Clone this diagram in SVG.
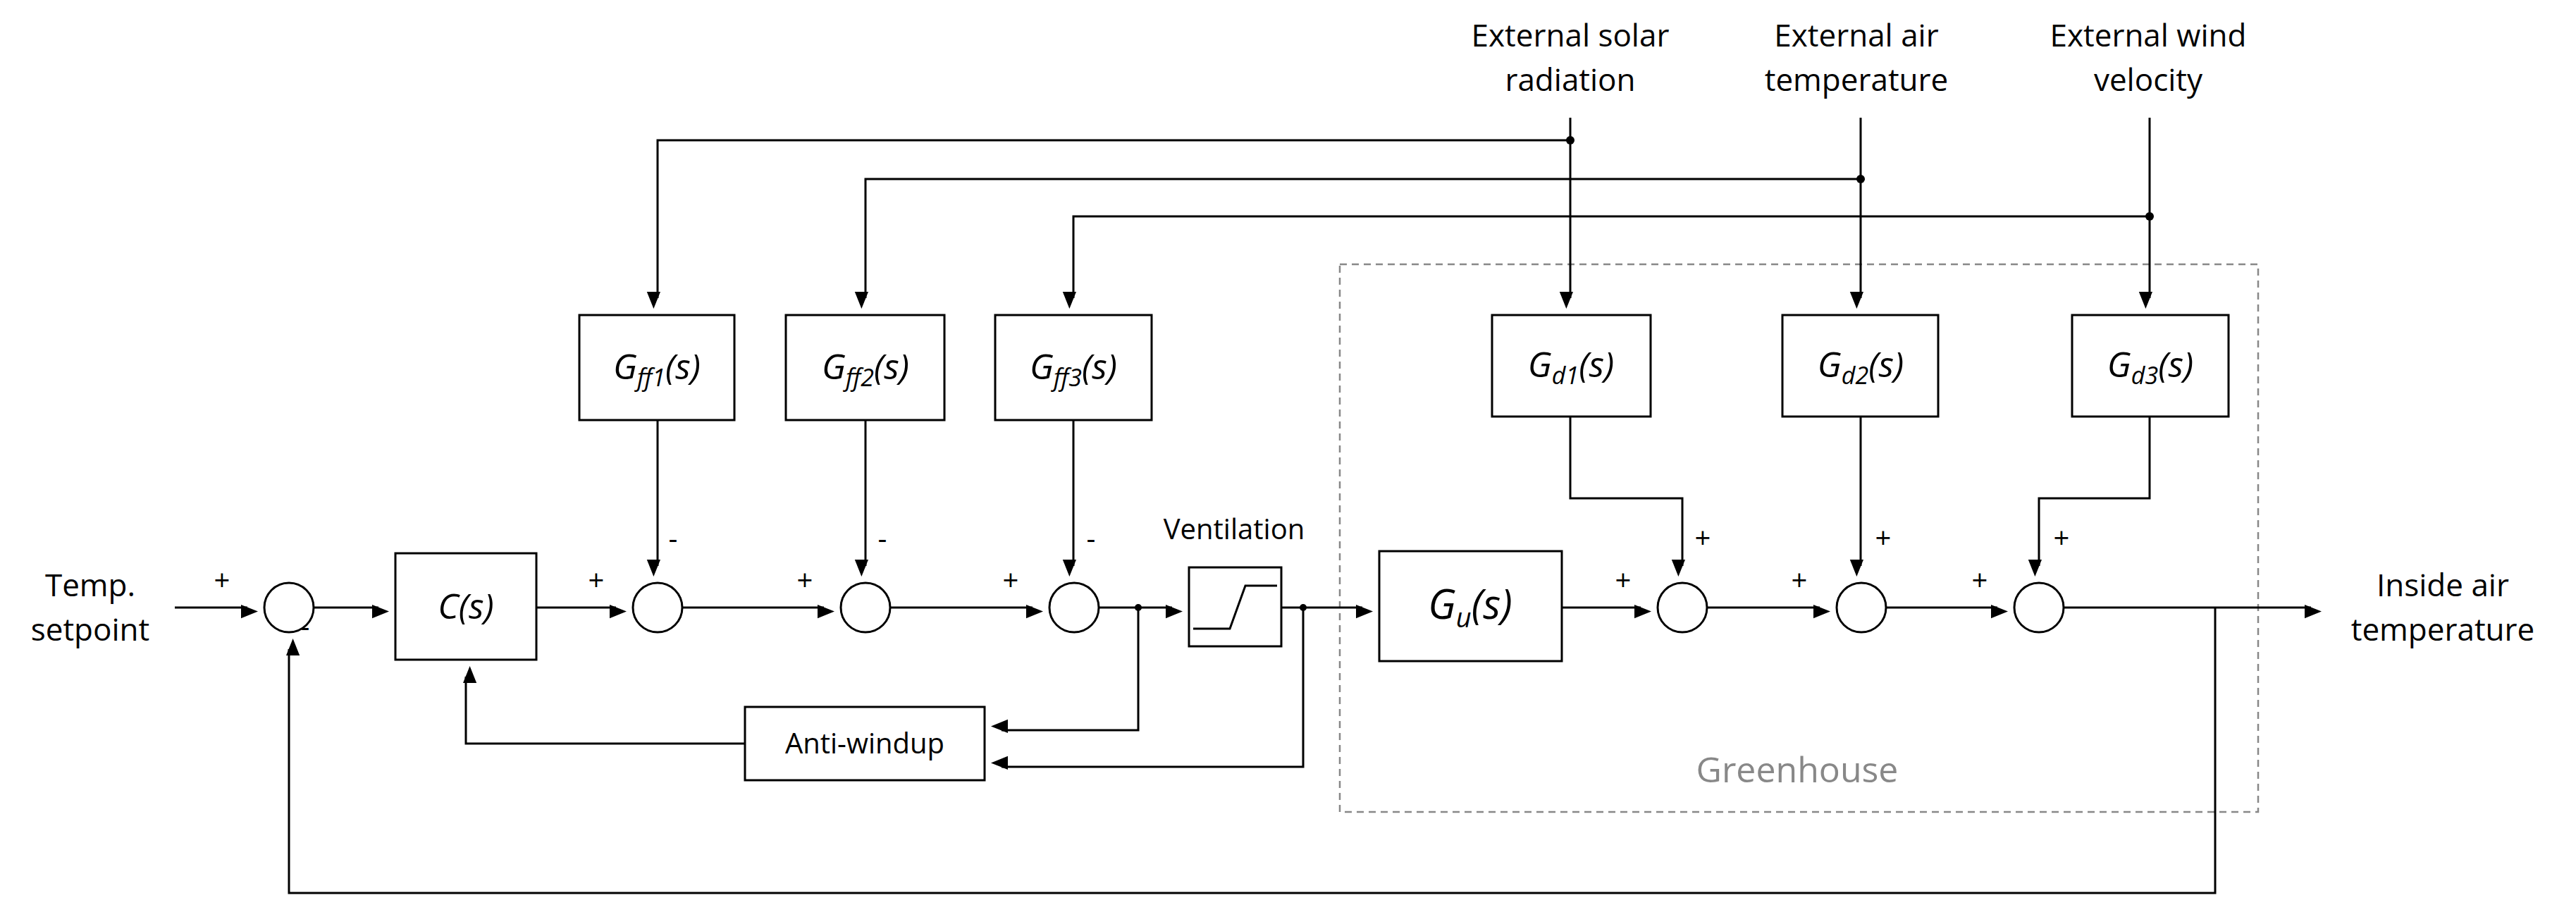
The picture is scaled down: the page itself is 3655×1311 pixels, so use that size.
<svg xmlns="http://www.w3.org/2000/svg" width="3655" height="1311" viewBox="0 0 3655 1311">
<style>
.b{fill:#fff;stroke:#000;stroke-width:3}
.s{fill:#fff;stroke:#000;stroke-width:3}
.w{fill:none;stroke:#000;stroke-width:3}
.t{font-family:"Open Sans","Liberation Sans",sans-serif;font-size:44px;fill:#000;text-anchor:middle}
.i{font-family:"Open Sans","Liberation Sans",sans-serif;font-size:50px;font-style:italic;fill:#000;text-anchor:middle}
.sub{font-size:34px}
.g{font-size:34px}
</style>
<defs>
<marker id="a" markerWidth="10" markerHeight="8" refX="9" refY="4" orient="auto" markerUnits="userSpaceOnUse" viewBox="0 0 10 8" style="overflow:visible">
<path d="M0,0 L10,4 L0,8 Z" fill="#000" transform="scale(2.4)"/>
</marker>
</defs>
<rect width="3655" height="1311" fill="#fff"/>
<g id="greenhouse">
<rect x="1901" y="375" width="1303" height="777" fill="none" stroke="#888" stroke-width="2.5" stroke-dasharray="10,7"/>
<text class="t" x="2550" y="1110" style="font-size:50px;fill:#888">Greenhouse</text>
</g>
<g id="connectors" class="w">
<path d="M248,862 H351" marker-end="url(#a)"/>
<path d="M445,862 H537" marker-end="url(#a)"/>
<path d="M761,862 H874" marker-end="url(#a)"/>
<path d="M968,862 H1169" marker-end="url(#a)"/>
<path d="M1263,862 H1465" marker-end="url(#a)"/>
<path d="M1559,862 H1663" marker-end="url(#a)"/>
<path d="M1818,862 H1933" marker-end="url(#a)"/>
<path d="M2216,862 H2328" marker-end="url(#a)"/>
<path d="M2422,862 H2582" marker-end="url(#a)"/>
<path d="M2676,862 H2834" marker-end="url(#a)"/>
<path d="M2928,862 H3279" marker-end="url(#a)"/>
<path d="M3143,862 V1267 H410 V921" marker-end="url(#a)"/>
<path d="M1615,862 V1036 H1421" marker-end="url(#a)"/>
<path d="M1849,862 V1088 H1421" marker-end="url(#a)"/>
<path d="M1057,1055 H661 V960" marker-end="url(#a)"/>
<path d="M933,596 V803" marker-end="url(#a)"/>
<path d="M1228,596 V803" marker-end="url(#a)"/>
<path d="M1523,596 V803" marker-end="url(#a)"/>
<path d="M2228,167 V423" marker-end="url(#a)"/>
<path d="M2640,167 V423" marker-end="url(#a)"/>
<path d="M3050,167 V423" marker-end="url(#a)"/>
<path d="M2228,199 H933 V423" marker-end="url(#a)"/>
<path d="M2640,254 H1228 V423" marker-end="url(#a)"/>
<path d="M3050,307 H1523 V423" marker-end="url(#a)"/>
<path d="M2228,591 V707 H2387 V803" marker-end="url(#a)"/>
<path d="M2640,591 V803" marker-end="url(#a)"/>
<path d="M3050,591 V707 H2893 V803" marker-end="url(#a)"/>
<g fill="#000" stroke="none">
<circle cx="2228" cy="199" r="6"/><circle cx="2640" cy="254" r="6"/><circle cx="3050" cy="307" r="6"/>
<circle cx="1615" cy="862" r="5"/><circle cx="1849" cy="862" r="5"/>
</g>
</g>
<g id="sum1"><circle class="s" cx="410" cy="862" r="35"/></g>
<g id="sum2"><circle class="s" cx="933" cy="862" r="35"/></g>
<g id="sum3"><circle class="s" cx="1228" cy="862" r="35"/></g>
<g id="sum4"><circle class="s" cx="1524" cy="862" r="35"/></g>
<g id="sum5"><circle class="s" cx="2387" cy="862" r="35"/></g>
<g id="sum6"><circle class="s" cx="2641" cy="862" r="35"/></g>
<g id="sum7"><circle class="s" cx="2893" cy="862" r="35"/></g>
<g id="cs"><rect class="b" x="561" y="785" width="200" height="151"/><text class="i" x="661" y="878">C(s)</text></g>
<g id="gff1"><rect class="b" x="822" y="447" width="220" height="149"/><text class="i" x="932" y="538">G<tspan class="sub" dy="10">ff1</tspan><tspan dy="-10">(s)</tspan></text></g>
<g id="gff2"><rect class="b" x="1115" y="447" width="225" height="149"/><text class="i" x="1228" y="538">G<tspan class="sub" dy="10">ff2</tspan><tspan dy="-10">(s)</tspan></text></g>
<g id="gff3"><rect class="b" x="1412" y="447" width="222" height="149"/><text class="i" x="1523" y="538">G<tspan class="sub" dy="10">ff3</tspan><tspan dy="-10">(s)</tspan></text></g>
<g id="gd1"><rect class="b" x="2117" y="447" width="225" height="144"/><text class="i" x="2229" y="535">G<tspan class="sub" dy="10">d1</tspan><tspan dy="-10">(s)</tspan></text></g>
<g id="gd2"><rect class="b" x="2529" y="447" width="221" height="144"/><text class="i" x="2640" y="535">G<tspan class="sub" dy="10">d2</tspan><tspan dy="-10">(s)</tspan></text></g>
<g id="gd3"><rect class="b" x="2940" y="447" width="222" height="144"/><text class="i" x="3051" y="535">G<tspan class="sub" dy="10">d3</tspan><tspan dy="-10">(s)</tspan></text></g>
<g id="gu"><rect class="b" x="1957" y="782" width="259" height="156"/><text class="i" x="2086" y="878" style="font-size:58px">G<tspan class="sub" dy="12" style="font-size:38px">u</tspan><tspan dy="-12">(s)</tspan></text></g>
<g id="ventilation"><rect class="b" x="1687" y="805" width="131" height="112"/>
<path class="w" d="M1693,892 H1745 L1767,831 H1812"/>
<text class="t" x="1751" y="765" style="font-size:40px">Ventilation</text></g>
<g id="antiwindup"><rect class="b" x="1057" y="1003" width="340" height="104"/><text class="t" x="1227" y="1069" style="font-size:40px">Anti-windup</text></g>
<g id="labels">
<text class="t" x="128" y="846">Temp.</text>
<text class="t" x="128" y="909">setpoint</text>
<text class="t" x="3466" y="846">Inside air</text>
<text class="t" x="3466" y="909">temperature</text>
<text class="t" x="2228" y="66">External solar</text>
<text class="t" x="2228" y="129">radiation</text>
<text class="t" x="2634" y="66">External air</text>
<text class="t" x="2634" y="129">temperature</text>
<text class="t" x="3048" y="66">External wind</text>
<text class="t" x="3048" y="129">velocity</text>
<g class="t" style="font-size:40px">
<text x="315" y="838">+</text><text x="433" y="903">-</text>
<text x="846" y="838">+</text><text x="955" y="778">-</text>
<text x="1142" y="838">+</text><text x="1252" y="778">-</text>
<text x="1434" y="838">+</text><text x="1548" y="778">-</text>
<text x="2303" y="838">+</text><text x="2416" y="778">+</text>
<text x="2553" y="838">+</text><text x="2672" y="778">+</text>
<text x="2809" y="838">+</text><text x="2925" y="778">+</text>
</g>
</g>
</svg>
